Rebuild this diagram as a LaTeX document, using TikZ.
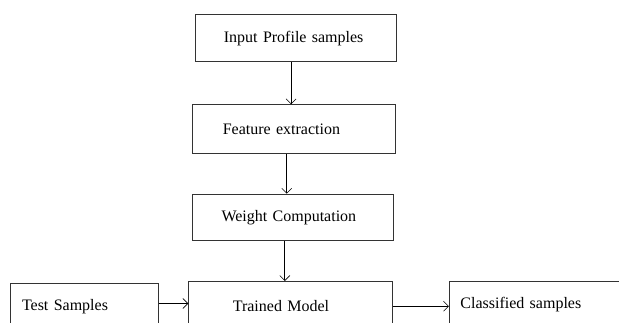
\documentclass[tikz,border=0pt]{standalone}
\usepackage{fontspec}
\setmainfont{Liberation Serif}
\usetikzlibrary{arrows.meta}
\begin{document}
\begin{tikzpicture}[x=1pt,y=1pt]
        \tikzset{stage/.style={draw=black!80, line width=1pt, rectangle, anchor=north west, align=left, font=\fontsize{16}{18}\selectfont},
                 flow/.style={line width=0.8pt, -{Straight Barb[length=5pt,width=10pt,line width=0.6pt]}}}
        \useasboundingbox (0,0) rectangle (619,323);
        \clip (0,0) rectangle (619,323);

        \node[stage, inner xsep=28pt, text width=145pt, minimum height=47.3pt] (input) at (195.4,309) {Input Profile samples};
        \node[stage, inner xsep=30pt, text width=142.9pt, minimum height=48.7pt] (feature) at (192.3,218.7) {Feature extraction};
        \node[stage, inner xsep=29.5pt, text width=142.7pt, minimum height=46.3pt] (weight) at (191.5,129.3) {Weight Computation};
        \node[stage, inner xsep=44pt, text width=115.7pt, minimum height=50pt] (model) at (188.3,42) {Trained Model};
        \node[stage, inner xsep=12pt, text width=124pt, minimum height=45pt] (test) at (9.5,39.7) {Test Samples};
        \node[stage, inner xsep=11pt, text width=178pt, minimum height=46pt] (classified) at (448.9,42) {Classified samples};

        \draw[flow] ([xshift=-5.3pt]input.south) -- ([xshift=-5.3pt]input.south |- feature.north);
        \draw[flow] ([xshift=-7.5pt]feature.south) -- ([xshift=-7.5pt]feature.south |- weight.north);
        \draw[flow] ([xshift=-8pt]weight.south) -- ([xshift=-8pt]weight.south |- model.north);
        \draw[flow] ([yshift=2.8pt]test.east) -- ([yshift=2.8pt]test.east -| model.west);
        \draw[flow] ([yshift=-1.7pt]model.east |- classified.west) -- ([yshift=-1.7pt]classified.west);
\end{tikzpicture}
\end{document}
